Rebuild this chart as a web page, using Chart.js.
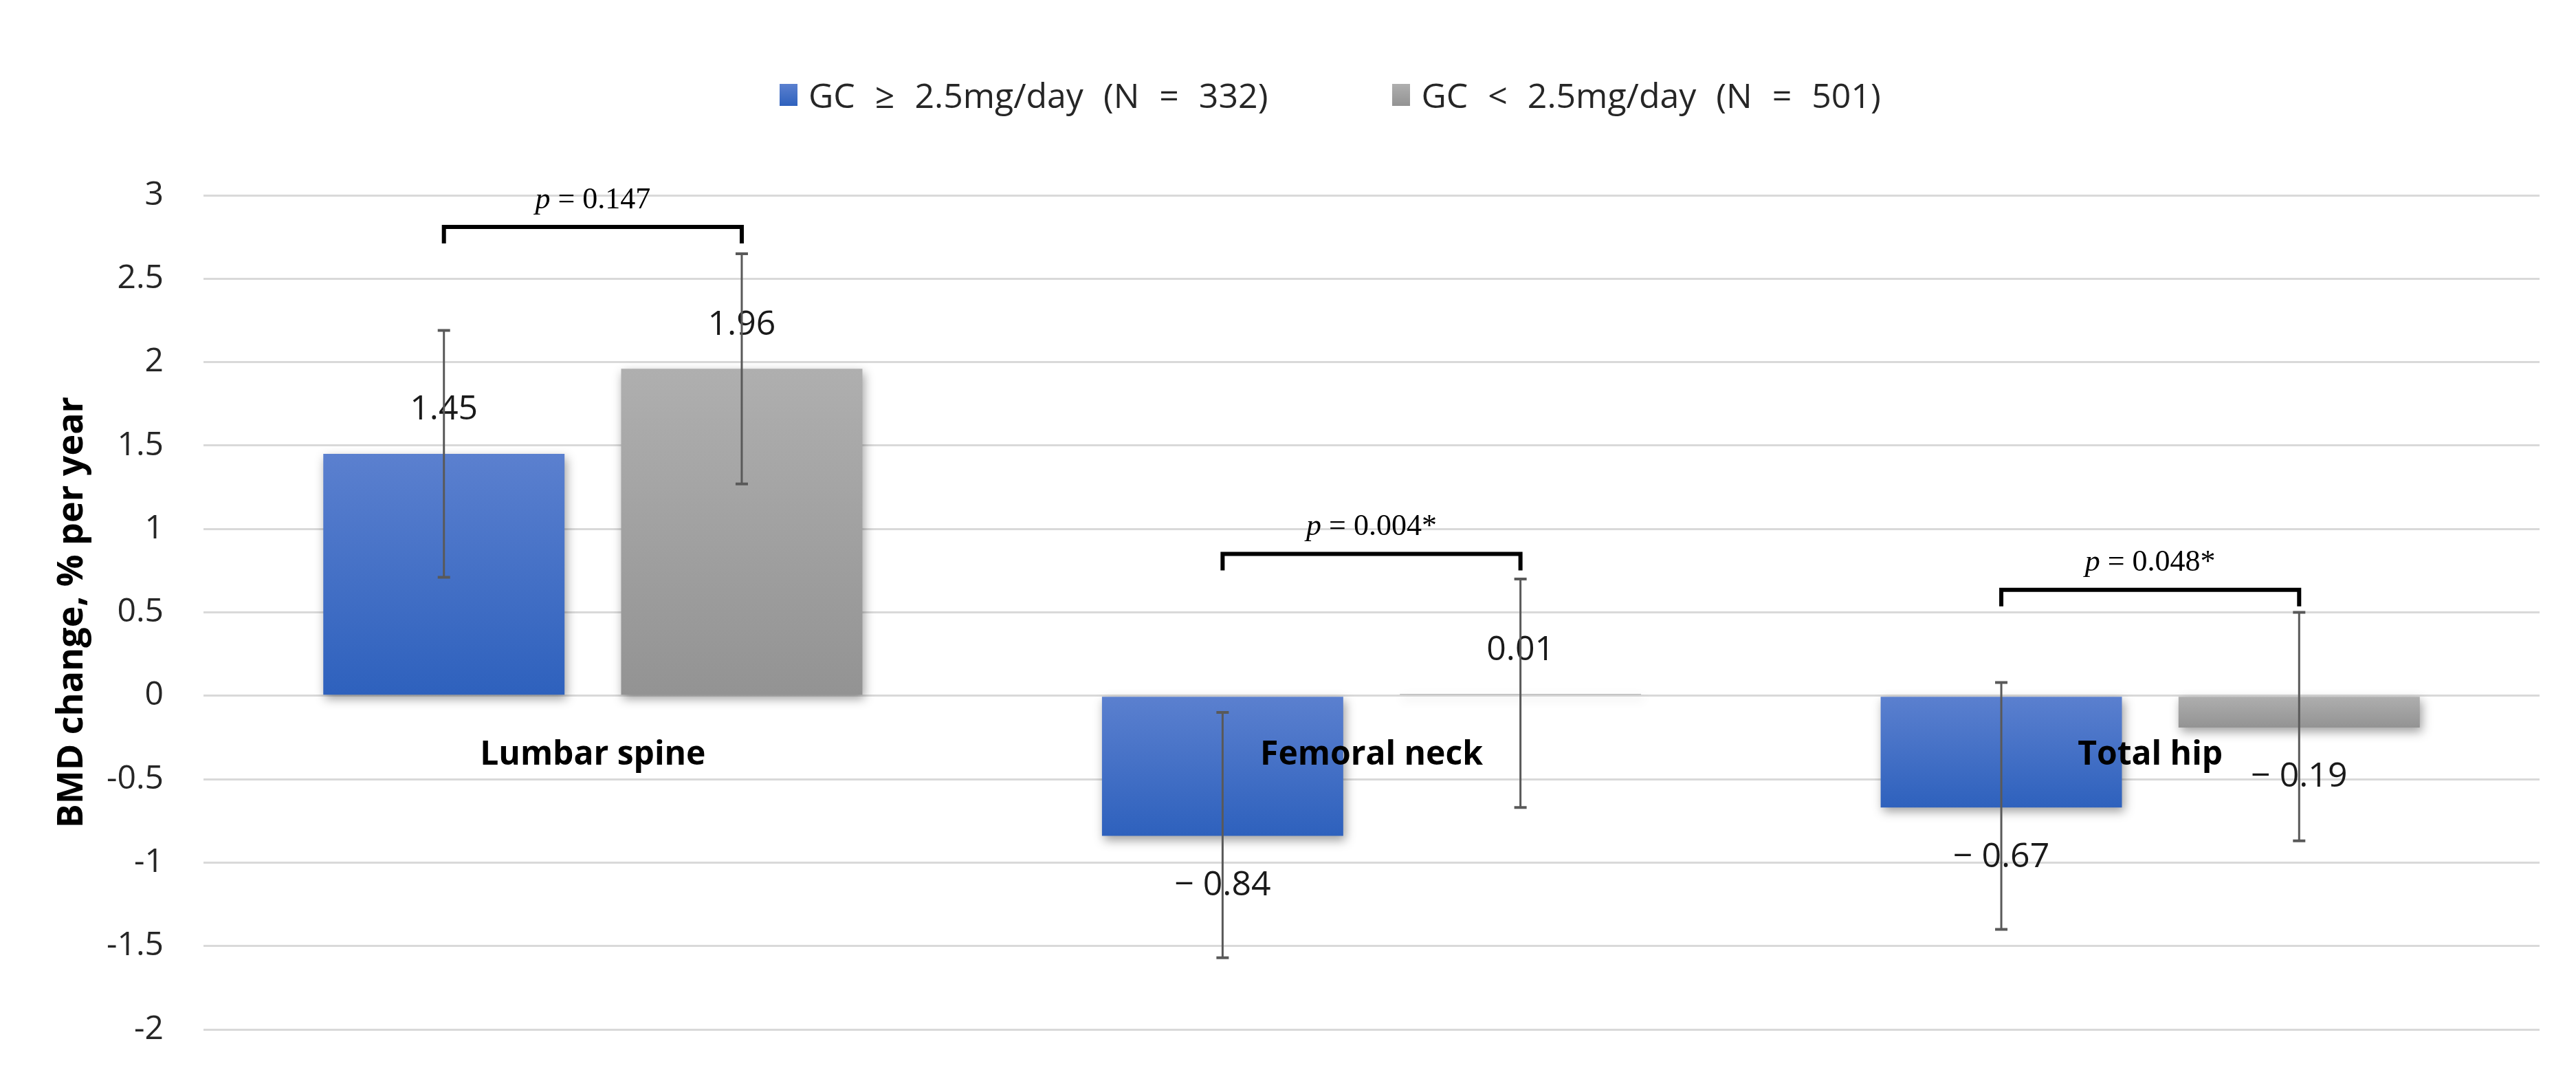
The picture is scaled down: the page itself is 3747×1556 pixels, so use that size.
<!DOCTYPE html>
<html lang="en">
  <head>
    <meta charset="utf-8" />
    <title>BMD change by GC dose</title>
    <script src="https://cdn.jsdelivr.net/npm/chart.js@4.4.1/dist/chart.umd.min.js"></script>
    <style>
      body { margin: 0; background: #fff; }
      #wrap { position: relative; width: 3747px; height: 1556px; }
      #legend {
        position: absolute; top: 104px; left: 1134px;
        display: flex; align-items: center;
        font-family: "Open Sans", sans-serif; font-size: 50px; color: #262626;
        white-space: nowrap; word-spacing: 16px;
      }
      .item { display: flex; align-items: center; margin-right: 181px; }
      .box { width: 26px; height: 32px; margin-right: 16px; }
    </style>
  </head>
  <body>
    <div id="wrap">
      <div id="legend"></div>
      <canvas id="myChart"></canvas>
    </div>
    <script>
      // data
      var categories = ["Lumbar spine", "Femoral neck", "Total hip"];
      var seriesNames = ["GC \u2265 2.5mg/day (N = 332)", "GC < 2.5mg/day (N = 501)"];
      var highDose = [1.45, -0.84, -0.67];
      var lowDose = [1.96, 0.01, -0.19];
      var highDoseErrLow = [0.71, -1.57, -1.40];
      var highDoseErrHigh = [2.19, -0.10, 0.08];
      var lowDoseErrLow = [1.27, -0.67, -0.87];
      var lowDoseErrHigh = [2.65, 0.70, 0.50];
      var pTexts = ["= 0.147", "= 0.004*", "= 0.048*"];
      var bracketLevel = [2.81, 0.85, 0.635];
      var yMin = -2, yMax = 3, yStep = 0.5;
      var yTitle = "BMD change, % per year";

      var colors = [
        { top: "#5b80cf", bottom: "#2e61bd" },
        { top: "#afafaf", bottom: "#939393" },
      ];

      // legend
      var legend = document.getElementById("legend");
      seriesNames.forEach(function (name, i) {
        var it = document.createElement("div");
        it.className = "item";
        var b = document.createElement("span");
        b.className = "box";
        b.style.background = "linear-gradient(" + colors[i].top + "," + colors[i].bottom + ")";
        var t = document.createElement("span");
        t.textContent = name;
        it.appendChild(b);
        it.appendChild(t);
        legend.appendChild(it);
      });

      function barFill(c) {
        return function (context) {
          var chart = context.chart;
          var y = chart.scales.y;
          if (!y || !chart.chartArea || context.type !== "data") return c.top;
          var p0 = y.getPixelForValue(0);
          var p1 = y.getPixelForValue(context.raw);
          var a = Math.min(p0, p1), b = Math.max(p0, p1);
          if (b - a < 1) b = a + 1;
          var g = chart.ctx.createLinearGradient(0, a, 0, b);
          g.addColorStop(0, c.top);
          g.addColorStop(1, c.bottom);
          return g;
        };
      }

      const shadow = {
        id: "shadow",
        beforeDatasetsDraw(chart) {
          var ctx = chart.ctx;
          ctx.save();
          ctx.shadowColor = "rgba(0,0,0,0.38)";
          ctx.shadowBlur = 14;
          ctx.shadowOffsetX = 3;
          ctx.shadowOffsetY = 6;
        },
        afterDatasetsDraw(chart) {
          chart.ctx.restore();
        },
      };

      const annotate = {
        id: "annotate",
        afterDatasetsDraw(chart) {
          var ctx = chart.ctx;
          var y = chart.scales.y;
          var sets = [
            { vals: highDose, lo: highDoseErrLow, hi: highDoseErrHigh },
            { vals: lowDose, lo: lowDoseErrLow, hi: lowDoseErrHigh },
          ];
          ctx.save();
          // value labels
          ctx.font = "50px 'Open Sans'";
          ctx.fillStyle = "#1a1a1a";
          ctx.textAlign = "center";
          ctx.textBaseline = "middle";
          sets.forEach(function (s, d) {
            chart.getDatasetMeta(d).data.forEach(function (bar, i) {
              var v = s.vals[i];
              var txt = v < 0 ? "\u2212 " + Math.abs(v).toFixed(2) : v.toFixed(2);
              ctx.fillText(txt, bar.x, v >= 0 ? bar.y - 64 : bar.y + 72);
            });
          });
          // error bars
          ctx.strokeStyle = "#595959";
          sets.forEach(function (s, d) {
            chart.getDatasetMeta(d).data.forEach(function (bar, i) {
              var t = y.getPixelForValue(s.hi[i]);
              var b = y.getPixelForValue(s.lo[i]);
              ctx.lineWidth = 3;
              ctx.beginPath();
              ctx.moveTo(bar.x, t);
              ctx.lineTo(bar.x, b);
              ctx.stroke();
              ctx.lineWidth = 4;
              ctx.beginPath();
              ctx.moveTo(bar.x - 9, t);
              ctx.lineTo(bar.x + 9, t);
              ctx.moveTo(bar.x - 9, b);
              ctx.lineTo(bar.x + 9, b);
              ctx.stroke();
            });
          });
          // significance brackets
          var m0 = chart.getDatasetMeta(0).data;
          var m1 = chart.getDatasetMeta(1).data;
          ctx.strokeStyle = "#000";
          ctx.fillStyle = "#000";
          ctx.lineWidth = 6;
          ctx.lineJoin = "miter";
          categories.forEach(function (c, i) {
            var x0 = m0[i].x, x1 = m1[i].x;
            var yb = y.getPixelForValue(bracketLevel[i]);
            ctx.beginPath();
            ctx.moveTo(x0, yb + 24);
            ctx.lineTo(x0, yb);
            ctx.lineTo(x1, yb);
            ctx.lineTo(x1, yb + 24);
            ctx.stroke();
            ctx.textBaseline = "middle";
            ctx.textAlign = "left";
            ctx.font = "italic 44px 'Liberation Serif'";
            var wp = ctx.measureText("p ").width;
            ctx.font = "44px 'Liberation Serif'";
            var wr = ctx.measureText(pTexts[i]).width;
            var sx = (x0 + x1) / 2 - (wp + wr) / 2;
            ctx.font = "italic 44px 'Liberation Serif'";
            ctx.fillText("p ", sx, yb - 39);
            ctx.font = "44px 'Liberation Serif'";
            ctx.fillText(pTexts[i], sx + wp, yb - 39);
          });
          ctx.restore();
        },
      };

      const config = {
        type: "bar",
        data: {
          labels: categories,
          datasets: [
            { label: seriesNames[0], data: highDose, backgroundColor: barFill(colors[0]) },
            { label: seriesNames[1], data: lowDose, backgroundColor: barFill(colors[1]) },
          ],
        },
        options: {
          responsive: true,
          maintainAspectRatio: false,
          animation: false,
          categoryPercentage: 0.765,
          barPercentage: 0.81,
          layout: { padding: { top: 284, right: 53, bottom: 59, left: 0 } },
          plugins: {
            legend: { display: false },
            tooltip: { enabled: false },
          },
          scales: {
            x: {
              position: { y: 0 },
              grid: { display: false, drawTicks: false },
              border: { display: false },
              ticks: {
                z: 1,
                padding: 58,
                color: "#000",
                font: { family: "Open Sans", size: 48, weight: "bold" },
              },
            },
            y: {
              min: yMin,
              max: yMax,
              afterFit: function (s) { s.width = 296; },
              grid: {
                color: "#d9d9d9",
                lineWidth: 3,
                drawTicks: true,
                tickLength: 58,
                tickColor: "rgba(0,0,0,0)",
              },
              border: { display: false },
              ticks: {
                stepSize: yStep,
                padding: 0,
                color: "#262626",
                font: { family: "Open Sans", size: 48 },
                callback: function (v) { return String(Math.round(v * 10) / 10); },
              },
              title: {
                display: true,
                text: yTitle,
                color: "#000",
                font: { family: "Open Sans", size: 52, weight: "bold" },
                padding: { top: 74, bottom: 0 },
              },
            },
          },
        },
        plugins: [shadow, annotate],
      };
      var myChart = new Chart(document.getElementById("myChart"), config);
    </script>
  </body>
</html>
